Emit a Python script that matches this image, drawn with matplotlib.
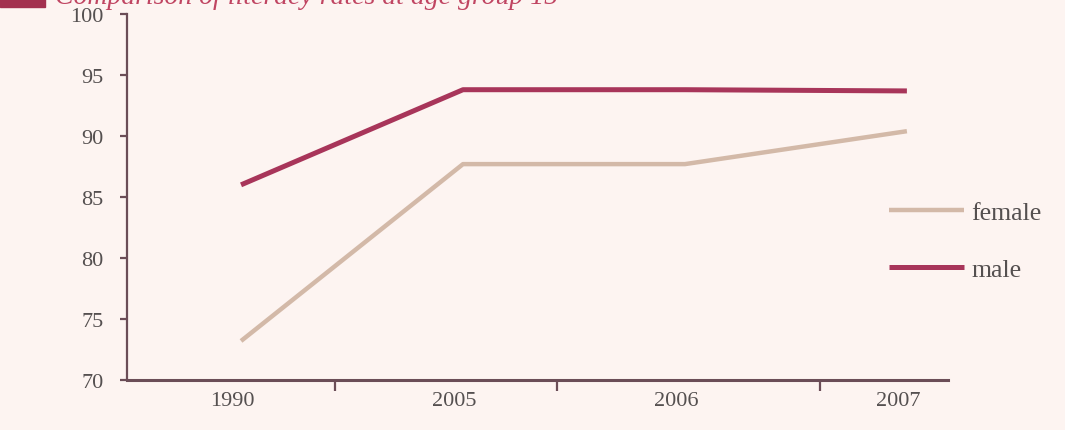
import matplotlib.pyplot as plt
from matplotlib.patches import Rectangle

# data
years = ["1990", "2005", "2006", "2007"]
female = [73.2, 87.7, 87.7, 90.4]
male = [86.0, 93.8, 93.8, 93.7]
y_ticks = [70, 75, 80, 85, 90, 95, 100]

bg = "#fdf4f1"
axis_col = "#6b4d57"
text_col = "#555050"
male_col = "#a8355a"
female_col = "#d3b9a8"

fig = plt.figure(figsize=(10.65, 4.31), dpi=100, facecolor=bg)
ax = fig.add_axes([0.1192, 0.116, 0.7709, 0.849])
ax.set_facecolor(bg)

x = list(range(len(years)))
l_male, = ax.plot(x, male, color=male_col, lw=3.6, solid_capstyle="butt")
l_female, = ax.plot(x, female, color=female_col, lw=3.2, solid_capstyle="butt")

ax.set_xlim(-0.514, 3.185)
ax.set_ylim(70, 100)

for s in ["top", "right"]:
    ax.spines[s].set_visible(False)
ax.spines["left"].set_color(axis_col)
ax.spines["left"].set_linewidth(1.6)
ax.spines["bottom"].set_color(axis_col)
ax.spines["bottom"].set_linewidth(2.2)

# y axis
ax.set_yticks(y_ticks)
ax.set_yticklabels([str(v) for v in y_ticks], family="Liberation Serif",
                   fontsize=16, color=text_col)
ax.tick_params(axis="y", direction="out", length=5, width=1.6, color=axis_col, pad=12)

# x axis: labels at the points, tick marks in between
ax.set_xticks([v - 0.04 for v in x])
ax.set_xticklabels(years, family="Liberation Serif", fontsize=16, color=text_col)
ax.tick_params(axis="x", which="major", length=0, pad=8)
ax.set_xticks([0.423, 1.423, 2.608], minor=True)
ax.tick_params(axis="x", which="minor", direction="out", length=8, width=1.6, color=axis_col)

fig.legend([l_female, l_male], ["female", "male"], loc="center left",
           bbox_to_anchor=(0.835, 0.4385), frameon=False, handlelength=2.9,
           handletextpad=0.3, labelspacing=1.33, borderpad=0, borderaxespad=0,
           prop={"family": "Liberation Serif", "size": 18.5}, labelcolor=text_col)

# title, clipped at the top like in the scan
fig.patches.append(Rectangle((0, 1 - 8 / 431), 45 / 1065, 8 / 431,
                             transform=fig.transFigure, color="#a3304f"))
fig.text(55 / 1065, 1 - 4 / 431, "Comparison of literacy rates at age group 15",
         family="Liberation Serif", style="italic", fontsize=20, color="#c04562",
         va="baseline", ha="left")

fig.savefig("out.png", dpi=100, facecolor=bg)
